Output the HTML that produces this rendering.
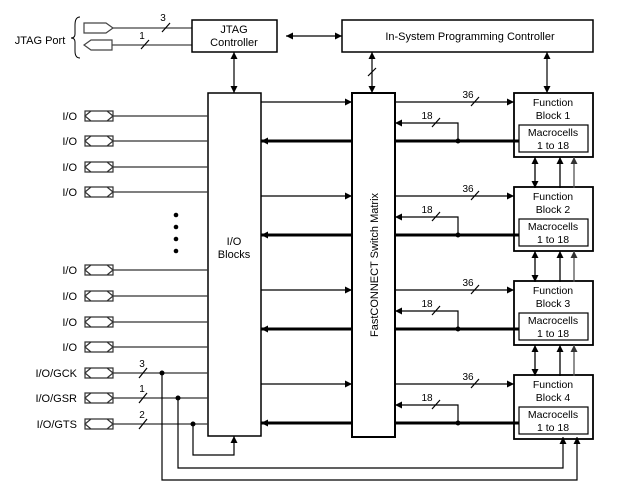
<!DOCTYPE html>
<html><head><meta charset="utf-8"><style>
html,body{margin:0;padding:0;background:#fff;}
svg{display:block;font-family:"Liberation Sans",sans-serif;font-size:10px;}
</style></head><body>
<svg width="637" height="486" viewBox="0 0 637 486" xmlns="http://www.w3.org/2000/svg">
<defs>
<marker id="a" viewBox="0 0 10 10" refX="10" refY="5" markerWidth="9" markerHeight="7" orient="auto-start-reverse" markerUnits="userSpaceOnUse"><path d="M0,0 L10,5 L0,10 z" fill="#000"/></marker>
<marker id="ag" viewBox="0 0 10 10" refX="10" refY="5" markerWidth="9" markerHeight="7" orient="auto-start-reverse" markerUnits="userSpaceOnUse"><path d="M0,0 L10,5 L0,10 z" fill="#333"/></marker>
</defs>
<g fill="none" stroke="#000" stroke-width="1.2">
<!-- JTAG port -->
<path d="M80,17 Q75,17 75,25 L75,34 Q75,38 71,38 Q75,38 75,42 L75,51 Q75,58 80,58" stroke-width="1"/>
<path d="M84,23 L106,23 L113,28 L106,33 L84,33 Z" stroke="#444"/>
<path d="M112,40 L91,40 L84,45 L91,50 L112,50 Z" stroke="#444"/>
<line x1="113" y1="28" x2="192" y2="28" stroke="#444"/>
<line x1="112" y1="45" x2="192" y2="45" stroke="#444"/>
<line x1="162" y1="32" x2="170" y2="23"/>
<line x1="141" y1="49" x2="149" y2="40"/>
<!-- boxes -->
<rect x="192" y="20" width="85" height="32" stroke-width="1.5"/>
<rect x="342" y="20" width="251" height="32" stroke-width="1.5"/>
<rect x="208" y="93" width="53" height="343" stroke-width="1.5"/>
<rect x="352" y="93" width="43" height="344" stroke-width="2"/>
<line x1="286" y1="36" x2="342" y2="36" marker-end="url(#a)" marker-start="url(#a)"/>
<line x1="234" y1="52" x2="234" y2="93" marker-end="url(#a)" marker-start="url(#a)"/>
<line x1="372" y1="52" x2="372" y2="93" marker-end="url(#a)" marker-start="url(#a)"/>
<line x1="368" y1="76" x2="376" y2="68"/>
<line x1="547" y1="52" x2="547" y2="93" marker-end="url(#a)" marker-start="url(#a)"/>
</g>
<g fill="#000" text-anchor="middle">
<text x="40" y="44" font-size="11">JTAG Port</text>
<text x="163" y="21">3</text><text x="142" y="39">1</text>
<text x="234" y="33" font-size="11">JTAG</text>
<text x="234" y="46" font-size="11">Controller</text>
<text x="470" y="40" font-size="11">In-System Programming Controller</text>
<text x="234" y="245" font-size="11">I/O</text>
<text x="234" y="258" font-size="11">Blocks</text>
<text transform="translate(378,265) rotate(-90)" font-size="11">FastCONNECT Switch Matrix</text>
<circle cx="176" cy="215" r="2.3"/><circle cx="176" cy="227" r="2.3"/><circle cx="176" cy="239" r="2.3"/><circle cx="176" cy="251" r="2.3"/>
</g>
<!-- I/O pins -->
<g id="pins" font-size="11">
<g fill="none" stroke="#333" stroke-width="1.2">
<path d="M85,111 h28 v10 h-28 z M85,116 l6,-5 h16 l6,5 l-6,5 h-16 z"/>
<path d="M85,136 h28 v10 h-28 z M85,141 l6,-5 h16 l6,5 l-6,5 h-16 z"/>
<path d="M85,162 h28 v10 h-28 z M85,167 l6,-5 h16 l6,5 l-6,5 h-16 z"/>
<path d="M85,187 h28 v10 h-28 z M85,192 l6,-5 h16 l6,5 l-6,5 h-16 z"/>
<path d="M85,265 h28 v10 h-28 z M85,270 l6,-5 h16 l6,5 l-6,5 h-16 z"/>
<path d="M85,291 h28 v10 h-28 z M85,296 l6,-5 h16 l6,5 l-6,5 h-16 z"/>
<path d="M85,317 h28 v10 h-28 z M85,322 l6,-5 h16 l6,5 l-6,5 h-16 z"/>
<path d="M85,342 h28 v10 h-28 z M85,347 l6,-5 h16 l6,5 l-6,5 h-16 z"/>
<path d="M85,368 h28 v10 h-28 z M85,373 l6,-5 h16 l6,5 l-6,5 h-16 z"/>
<path d="M85,393 h28 v10 h-28 z M85,398 l6,-5 h16 l6,5 l-6,5 h-16 z"/>
<path d="M85,419 h28 v10 h-28 z M85,424 l6,-5 h16 l6,5 l-6,5 h-16 z"/>
<path d="M113,116H208 M113,141H208 M113,167H208 M113,192H208 M113,270H208 M113,296H208 M113,322H208 M113,347H208 M113,373H208 M113,398H208 M113,424H208"/>
</g>
<g fill="#000" text-anchor="end">
<text x="77" y="120">I/O</text><text x="77" y="145">I/O</text><text x="77" y="171">I/O</text><text x="77" y="196">I/O</text>
<text x="77" y="274">I/O</text><text x="77" y="300">I/O</text><text x="77" y="326">I/O</text><text x="77" y="351">I/O</text>
<text x="77" y="377">I/O/GCK</text><text x="77" y="402">I/O/GSR</text><text x="77" y="428">I/O/GTS</text>
</g>
</g>
<g fill="none" stroke="#000" stroke-width="1.2">
<line x1="139" y1="378" x2="147" y2="368"/><line x1="139" y1="403" x2="147" y2="393"/><line x1="139" y1="429" x2="147" y2="419"/>
<path d="M162,373 V480 H577 V437" marker-end="url(#a)"/>
<path d="M178,398 V468 H563 V437" marker-end="url(#a)"/>
<path d="M193,424 V455 H234 V436" marker-end="url(#a)"/>
</g>
<g fill="#000" text-anchor="middle"><text x="142" y="367">3</text><text x="142" y="392">1</text><text x="142" y="418">2</text>
<circle cx="162" cy="373" r="2.5"/><circle cx="178" cy="398" r="2.5"/><circle cx="193" cy="424" r="2.5"/></g>
<!-- function blocks -->
<g id="fbs">
<g>
<g fill="none" stroke="#000" stroke-width="1.2">
<line x1="261" y1="102" x2="352" y2="102" marker-end="url(#a)"/>
<line x1="352" y1="141" x2="261" y2="141" stroke-width="3" marker-end="url(#a)"/>
<line x1="395" y1="102" x2="514" y2="102" marker-end="url(#a)"/>
<line x1="471" y1="106" x2="479" y2="97"/>
<path d="M458,141 V123 H395" marker-end="url(#a)"/>
<line x1="432" y1="127" x2="440" y2="118"/>
<line x1="395" y1="141" x2="519" y2="141" stroke-width="3"/>
<rect x="514" y="93" width="79" height="64" stroke-width="1.8"/>
<rect x="519" y="125" width="69" height="27"/>
</g>
<g fill="#000" text-anchor="middle"><circle cx="458" cy="141" r="2.5"/>
<text x="468" y="98">36</text><text x="427" y="119">18</text>
<text x="553" y="106" font-size="10.5">Function</text><text x="553" y="119" font-size="10.5">Block 1</text>
<text x="553" y="136" font-size="10.5">Macrocells</text><text x="553" y="149" font-size="10.5">1 to 18</text></g>
</g>
<g transform="translate(0,94)">
<g fill="none" stroke="#000" stroke-width="1.2">
<line x1="261" y1="102" x2="352" y2="102" marker-end="url(#a)"/>
<line x1="352" y1="141" x2="261" y2="141" stroke-width="3" marker-end="url(#a)"/>
<line x1="395" y1="102" x2="514" y2="102" marker-end="url(#a)"/>
<line x1="471" y1="106" x2="479" y2="97"/>
<path d="M458,141 V123 H395" marker-end="url(#a)"/>
<line x1="432" y1="127" x2="440" y2="118"/>
<line x1="395" y1="141" x2="519" y2="141" stroke-width="3"/>
<rect x="514" y="93" width="79" height="64" stroke-width="1.8"/>
<rect x="519" y="125" width="69" height="27"/>
</g>
<g fill="#000" text-anchor="middle"><circle cx="458" cy="141" r="2.5"/>
<text x="468" y="98">36</text><text x="427" y="119">18</text>
<text x="553" y="106" font-size="10.5">Function</text><text x="553" y="119" font-size="10.5">Block 2</text>
<text x="553" y="136" font-size="10.5">Macrocells</text><text x="553" y="149" font-size="10.5">1 to 18</text></g>
</g>
<g transform="translate(0,188)">
<g fill="none" stroke="#000" stroke-width="1.2">
<line x1="261" y1="102" x2="352" y2="102" marker-end="url(#a)"/>
<line x1="352" y1="141" x2="261" y2="141" stroke-width="3" marker-end="url(#a)"/>
<line x1="395" y1="102" x2="514" y2="102" marker-end="url(#a)"/>
<line x1="471" y1="106" x2="479" y2="97"/>
<path d="M458,141 V123 H395" marker-end="url(#a)"/>
<line x1="432" y1="127" x2="440" y2="118"/>
<line x1="395" y1="141" x2="519" y2="141" stroke-width="3"/>
<rect x="514" y="93" width="79" height="64" stroke-width="1.8"/>
<rect x="519" y="125" width="69" height="27"/>
</g>
<g fill="#000" text-anchor="middle"><circle cx="458" cy="141" r="2.5"/>
<text x="468" y="98">36</text><text x="427" y="119">18</text>
<text x="553" y="106" font-size="10.5">Function</text><text x="553" y="119" font-size="10.5">Block 3</text>
<text x="553" y="136" font-size="10.5">Macrocells</text><text x="553" y="149" font-size="10.5">1 to 18</text></g>
</g>
<g transform="translate(0,282)">
<g fill="none" stroke="#000" stroke-width="1.2">
<line x1="261" y1="102" x2="352" y2="102" marker-end="url(#a)"/>
<line x1="352" y1="141" x2="261" y2="141" stroke-width="3" marker-end="url(#a)"/>
<line x1="395" y1="102" x2="514" y2="102" marker-end="url(#a)"/>
<line x1="471" y1="106" x2="479" y2="97"/>
<path d="M458,141 V123 H395" marker-end="url(#a)"/>
<line x1="432" y1="127" x2="440" y2="118"/>
<line x1="395" y1="141" x2="519" y2="141" stroke-width="3"/>
<rect x="514" y="93" width="79" height="64" stroke-width="1.8"/>
<rect x="519" y="125" width="69" height="27"/>
</g>
<g fill="#000" text-anchor="middle"><circle cx="458" cy="141" r="2.5"/>
<text x="468" y="98">36</text><text x="427" y="119">18</text>
<text x="553" y="106" font-size="10.5">Function</text><text x="553" y="119" font-size="10.5">Block 4</text>
<text x="553" y="136" font-size="10.5">Macrocells</text><text x="553" y="149" font-size="10.5">1 to 18</text></g>
</g>
</g>
<!-- inter-FB arrows -->
<g fill="none" stroke="#000" stroke-width="1.3">
<line x1="535" y1="157" x2="535" y2="188" marker-end="url(#a)" marker-start="url(#a)"/>
<line x1="560" y1="188" x2="560" y2="157" marker-end="url(#a)"/>
<line x1="574" y1="188" x2="574" y2="157" stroke="#555" marker-end="url(#ag)"/>
<line x1="535" y1="251" x2="535" y2="282" marker-end="url(#a)" marker-start="url(#a)"/>
<line x1="560" y1="282" x2="560" y2="251" marker-end="url(#a)"/>
<line x1="574" y1="282" x2="574" y2="251" stroke="#555" marker-end="url(#ag)"/>
<line x1="535" y1="345" x2="535" y2="376" marker-end="url(#a)" marker-start="url(#a)"/>
<line x1="560" y1="376" x2="560" y2="345" marker-end="url(#a)"/>
<line x1="574" y1="376" x2="574" y2="345" stroke="#555" marker-end="url(#ag)"/>
</g>
</svg>
</body></html>
